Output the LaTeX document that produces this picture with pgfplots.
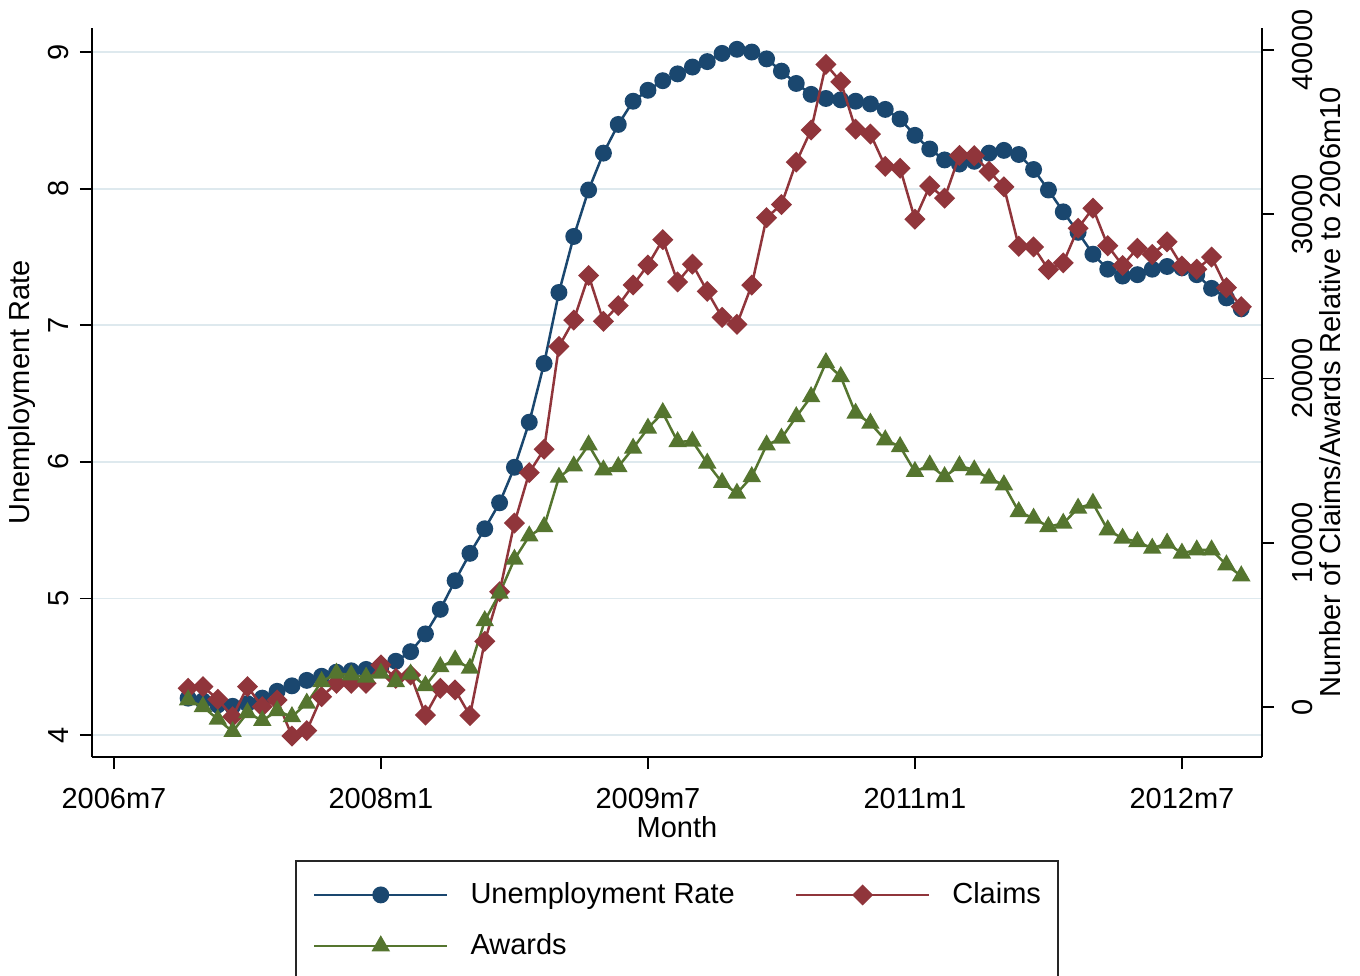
\documentclass[border=0pt]{standalone}
\usepackage{fontspec}
\setmainfont{Liberation Sans}
\usepackage{pgfplots}
\usepackage{pgfplotstable}
\pgfplotsset{compat=1.18}

\definecolor{stnavy}{RGB}{26,71,111}
\definecolor{stmaroon}{RGB}{144,53,59}
\definecolor{stgreen}{RGB}{85,117,47}
\definecolor{gridc}{RGB}{222,233,238}

% month index (0 = 2006m7), unemployment rate, claims and awards relative to 2006m10
\pgfplotstableread{
m U C A
5 4.27 1140 430
6 4.25 1240 20
7 4.22 470 -750
8 4.21 -590 -1500
9 4.23 1240 -350
10 4.27 20 -830
11 4.32 430 -230
12 4.36 -1770 -590
13 4.40 -1440 230
14 4.43 630 1540
15 4.46 1440 2050
16 4.47 1440 1950
17 4.48 1440 1810
18 4.50 2560 2050
19 4.54 1750 1540
20 4.61 1950 2000
21 4.74 -490 1300
22 4.92 1140 2450
23 5.13 1040 2860
24 5.33 -520 2360
25 5.51 4000 5250
26 5.70 7020 6920
27 5.96 11200 8990
28 6.29 14270 10410
29 6.72 15690 10980
30 7.24 21950 13980
31 7.65 23560 14670
32 7.99 26270 15950
33 8.26 23480 14430
34 8.47 24440 14630
35 8.64 25690 15750
36 8.72 26910 16970
37 8.79 28450 17920
38 8.84 25880 16150
39 8.89 26960 16180
40 8.93 25300 14840
41 8.99 23720 13660
42 9.02 23300 13010
43 9.00 25690 14020
44 8.95 29790 15950
45 8.86 30590 16360
46 8.77 33170 17670
47 8.69 35130 18890
48 8.66 39120 20960
49 8.65 38060 20110
50 8.64 35180 17880
51 8.62 34880 17270
52 8.58 32910 16260
53 8.51 32800 15850
54 8.39 29700 14330
55 8.29 31720 14730
56 8.21 30980 14020
57 8.18 33580 14680
58 8.20 33560 14430
59 8.26 32610 13920
60 8.28 31670 13520
61 8.25 28050 11890
62 8.14 28010 11490
63 7.99 26630 10980
64 7.83 27040 11180
65 7.68 29150 12100
66 7.52 30370 12400
67 7.41 28080 10780
68 7.36 26880 10270
69 7.37 27930 10060
70 7.41 27550 9660
71 7.43 28320 9970
72 7.42 26850 9360
73 7.37 26650 9560
74 7.27 27390 9560
75 7.20 25530 8650
76 7.12 24370 7980
}\series

\newcommand{\chartfont}{\fontsize{14.5}{17}\selectfont}

\pgfplotsset{
  base/.style={
    scale only axis, width=585pt, height=364.5pt,
    xmin=-1.48, xmax=77.4,
    tick align=outside, major tick length=6pt,
    every tick/.style={black, line width=0.9pt},
    axis line style={black, line width=0.9pt},
    tick label style={font=\chartfont},
    label style={font=\chartfont},
    /pgf/number format/assume math mode=true,
  },
  urate/.style={stnavy, line width=1.25pt, mark=*, mark size=3.6pt,
    mark options={solid, fill=stnavy, draw=stnavy}},
  claims/.style={stmaroon, line width=1.25pt, mark=square*, mark size=3.1pt,
    mark options={solid, rotate=45, fill=stmaroon, draw=stmaroon}},
  awards/.style={stgreen, line width=1.25pt, mark=triangle*, mark size=4.1pt,
    mark options={solid, fill=stgreen, draw=stgreen}},
}

\begin{document}
\begin{tikzpicture}
\begin{axis}[base, name=ax,
  axis x line*=bottom, axis y line*=left,
  ymin=3.839, ymax=9.176, ytick={4,5,6,7,8,9},
  xtick={0,18,36,54,72},
  xticklabels={2006m7,2008m1,2009m7,2011m1,2012m7},
  ymajorgrids, grid style={gridc, line width=0.9pt},
  xticklabel style={anchor=north, inner sep=0pt, yshift=-9.5pt},
  yticklabel style={rotate=90, anchor=center, inner sep=0pt, yshift=10.5pt},
  xlabel={Month},
  xlabel style={at={(axis description cs:0.5,0)}, anchor=center, yshift=-35pt, inner sep=0pt},
  ylabel={Unemployment Rate},
  ylabel style={at={(axis description cs:0,0.5)}, anchor=center, yshift=35pt, inner sep=0pt},
]
\addplot[urate] table[x=m, y=U] {\series};
\end{axis}
\begin{axis}[base,
  axis x line=none, axis y line*=right,
  ymin=-3044, ymax=41338,
  ytick={0,10000,20000,30000,40000},
  scaled y ticks=false,
  /pgf/number format/1000 sep={},
  yticklabel style={rotate=90, anchor=center, inner sep=0pt, yshift=-14pt},
  ylabel={Number of Claims/Awards Relative to 2006m10},
  ylabel style={at={(axis description cs:1,0.5)}, anchor=center, yshift=-34pt, inner sep=0pt},
  legend columns=2,
  legend style={at={(0.5,-0.1413)}, anchor=north, draw=black!85, line width=0.9pt,
    font=\chartfont, inner xsep=8.5pt, inner ysep=11pt,
    cells={anchor=west},
    nodes={inner sep=0pt},
    row sep=13.5pt,
    /tikz/every odd column/.append style={column sep=11pt},
    /tikz/every even column/.append style={column sep=30pt}},
  legend image code/.code={%
    \draw[#1, mark repeat=2, mark phase=2] plot coordinates {(0pt,0pt) (33.25pt,0pt) (66.5pt,0pt)};},
]
\addlegendimage{urate}
\addlegendentry{Unemployment Rate}
\addplot[claims] table[x=m, y=C] {\series};
\addlegendentry{Claims}
\addplot[awards] table[x=m, y=A] {\series};
\addlegendentry{Awards}
\end{axis}
\pgfresetboundingbox
\path[use as bounding box] ([shift={(-46pt,-109pt)}]ax.south west) rectangle ([shift={(49pt,14pt)}]ax.north east);
\end{tikzpicture}
\end{document}
